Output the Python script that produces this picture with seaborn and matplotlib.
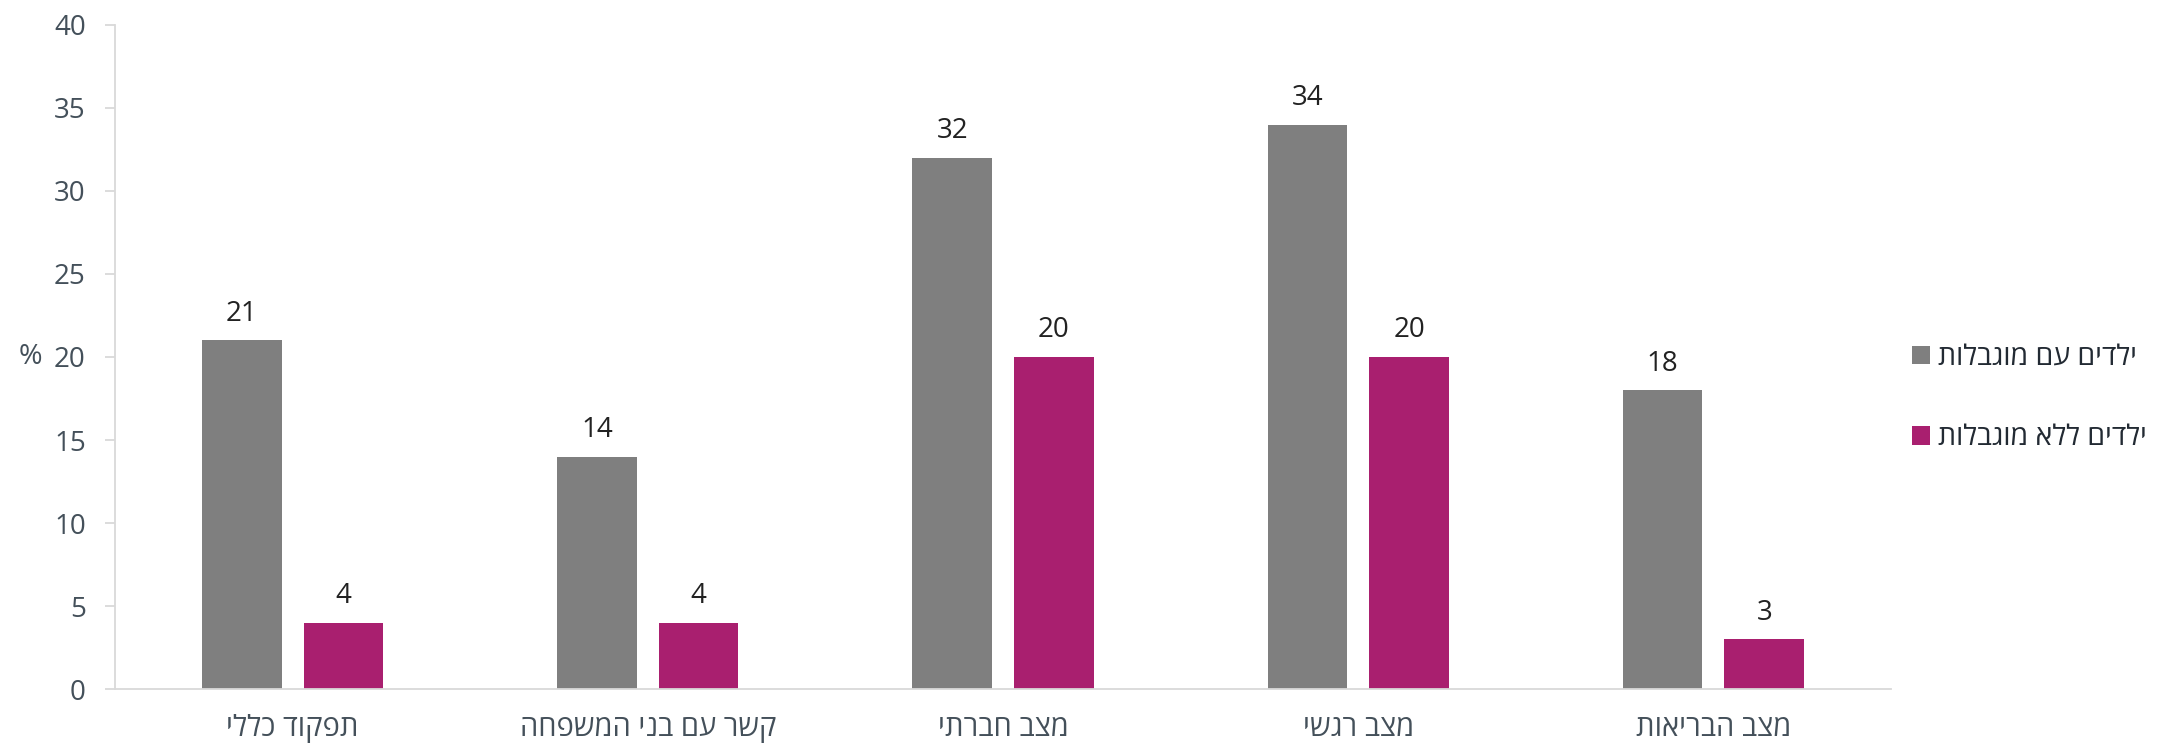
import matplotlib
matplotlib.use("Agg")
import matplotlib.pyplot as plt
import seaborn as sns
import pandas as pd

categories = ['תפקוד כללי', 'קשר עם בני המשפחה', 'מצב חברתי', 'מצב רגשי', 'מצב הבריאות']
series_names = ['ילדים עם מוגבלות', 'ילדים ללא מוגבלות']
with_disability = [21, 14, 32, 34, 18]
without_disability = [4, 4, 20, 20, 3]
yticks = [0, 5, 10, 15, 20, 25, 30, 35, 40]
colors = ['#7f7f7f', '#a91f6f']


def rtl(s):
    # matplotlib has no bidi support: give Hebrew in visual order
    return s[::-1]


sns.set_theme(style='white')
plt.rcParams['font.family'] = ['Open Sans', 'Liberation Sans', 'DejaVu Sans']

rows = []
for cat, a, b in zip(categories, with_disability, without_disability):
    rows.append({'cat': rtl(cat), 'series': rtl(series_names[0]), 'value': a})
    rows.append({'cat': rtl(cat), 'series': rtl(series_names[1]), 'value': b})
df = pd.DataFrame(rows)

fig = plt.figure(figsize=(21.57, 7.47), dpi=100)
ax = fig.add_axes([0.0533, 0.0776, 0.8234, 0.889])

sns.barplot(data=df, x='cat', y='value', hue='series',
            palette=colors, width=0.572, gap=0.217, ax=ax,
            order=[rtl(c) for c in categories],
            hue_order=[rtl(s) for s in series_names],
            saturation=1, errorbar=None, linewidth=0)

for cont in ax.containers:
    ax.bar_label(cont, fmt='%g', padding=9, fontsize=20, color='#222222')

ax.set_xlim(-0.5, len(categories) - 0.5)
ax.set_ylim(0, 40)
ax.set_yticks(yticks)
ax.set_xlabel('')
ax.set_ylabel('%', rotation=0, fontsize=20.5, color='#44505a', labelpad=17, va='center')

for side in ['top', 'right']:
    ax.spines[side].set_visible(False)
ax.spines['left'].set_color('#d9d9d9')
ax.spines['bottom'].set_color('#d9d9d9')
ax.spines['left'].set_linewidth(1.3)
ax.spines['bottom'].set_linewidth(1.3)

ax.tick_params(axis='y', which='both', left=True, length=7, width=1.3,
               color='#d9d9d9', pad=14, labelsize=20, labelcolor='#44505a')
ax.tick_params(axis='x', bottom=False, length=0, pad=18, labelsize=21,
               labelcolor='#44505a')

leg = ax.legend(loc='center left', bbox_to_anchor=(0.8864, 0.467),
                bbox_transform=fig.transFigure, frameon=False, borderpad=0,
                borderaxespad=0, fontsize=20.5, handlelength=0.62,
                handleheight=0.62, handletextpad=0.3, labelspacing=1.85)
for t in leg.get_texts():
    t.set_color('#222a33')

fig.savefig('out.png', dpi=100)
